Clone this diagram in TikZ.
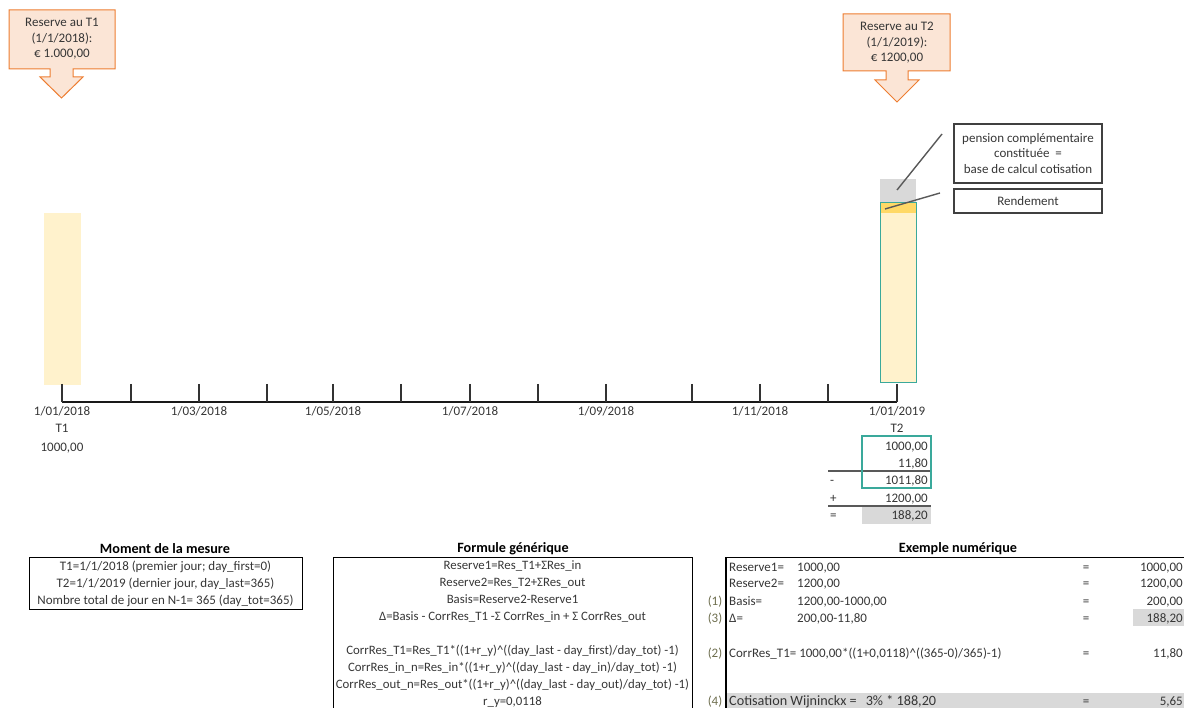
\documentclass[tikz,border=0pt]{standalone}
\usepackage{fontspec}
\setmainfont{Carlito}
\definecolor{txt}{HTML}{363636}
\definecolor{calloutfill}{HTML}{FBE5D6}
\definecolor{calloutdraw}{HTML}{ED7D31}
\definecolor{barfill}{HTML}{FFF2CC}
\definecolor{gold}{HTML}{FFD966}
\definecolor{cellgrey}{HTML}{D9D9D9}
\definecolor{tealline}{HTML}{3AA99B}
\definecolor{refnum}{HTML}{6E6E4E}
\definecolor{leadgrey}{HTML}{595959}
\begin{document}
\begin{tikzpicture}[x=1pt,y=-1pt,
  every node/.style={font=\fontsize{13}{17}\selectfont, text=txt, inner sep=0pt},
  callout/.style={draw=calloutdraw, fill=calloutfill, line width=1pt, line join=miter},
  callouttext/.style={align=center, font=\fontsize{13}{15.5}\selectfont},
  axisline/.style={draw=black!90, line width=1.3pt},
  tickline/.style={draw=black!80, line width=1.1pt},
  labelbox/.style={draw=black!75, line width=1.2pt, align=center, font=\fontsize{13}{15.5}\selectfont},
  leader/.style={draw=leadgrey, line width=1.4pt},
  sumline/.style={draw=leadgrey, line width=1.2pt},
  tablebox/.style={draw=black, line width=1pt},
  head/.style={font=\bfseries\fontsize{14.2}{17}\selectfont, text=black},
  refno/.style={text=refnum, anchor=base},
  lft/.style={anchor=base west},
  rgt/.style={anchor=base east},
  mid/.style={anchor=base}]
\useasboundingbox (0,0) rectangle (1184,708);

% --- callouts with the reserves at T1 and T2
\draw[callout] (9,10) -- (115,10) -- (115,69) -- (73,69) -- (73,77) -- (83,77)
  -- (61.5,98) -- (40,77) -- (50,77) -- (50,69) -- (9,69) -- cycle;
\node[callouttext] (noteT1) at (62,39) {Reserve au T1\\(1/1/2018):\\€ 1.000,00};
\draw[callout] (843,14) -- (950,14) -- (950,71) -- (908,71) -- (908,80) -- (919,80)
  -- (897,102) -- (875,80) -- (886,80) -- (886,71) -- (843,71) -- cycle;
\node[callouttext] (noteT2) at (897,43) {Reserve au T2\\(1/1/2019):\\€ 1200,00};

% --- reserve bars
\fill[barfill] (44,213) rectangle (81,385);
\fill[cellgrey] (880,179) rectangle (916,203);
\fill[gold] (880,203) rectangle (916,213);
\fill[barfill] (880,213) rectangle (916,383);
\draw[tealline, line width=1pt] (880,203) rectangle (916,383);

% --- time axis
\draw[axisline] (62,402) -- (897,402);
\foreach \tx in {62,131,199,267,333,401,470,538,606,692,760,828,897}
  \draw[tickline] (\tx,384) -- (\tx,402);
\node[mid] (d1) at (62,415.5) {1/01/2018};
\node[mid] (d2) at (199,415.5) {1/03/2018};
\node[mid] (d3) at (333,415.5) {1/05/2018};
\node[mid] (d4) at (470,415.5) {1/07/2018};
\node[mid] (d5) at (606,415.5) {1/09/2018};
\node[mid] (d6) at (760,415.5) {1/11/2018};
\node[mid] (d7) at (897,415.5) {1/01/2019};
\node[mid] (tT1) at (62,432.5) {T1};
\node[mid] (vT1) at (62,451.5) {1000,00};
\node[mid] (tT2) at (897,432.5) {T2};

% --- calculation under T2
\fill[cellgrey] (862,506) rectangle (931,524);
\draw[sumline] (828,471) -- (930,471);
\draw[sumline] (828,506) -- (931,506);
\draw[tealline, line width=1.3pt] (862,436) rectangle (931,488);
\node[rgt] (c1) at (928,450.5) {1000,00};
\node[rgt] (c2) at (928,467.5) {11,80};
\node[rgt] (c3) at (928,484.5) {1011,80};
\node[rgt] (c4) at (928,502.5) {1200,00};
\node[rgt] (c5) at (928,519.5) {188,20};
\node[lft] (o1) at (830,484.5) {-};
\node[lft] (o2) at (830,502.5) {+};
\node[lft] (o3) at (830,519.5) {=};

% --- legend boxes with leader lines
\node[labelbox, minimum width=148, minimum height=59] (pension) at (1028,153.5)
  {pension complémentaire\\constituée\ \ =\\base de calcul cotisation};
\node[labelbox, minimum width=148, minimum height=24] (rend) at (1028,201) {Rendement};
\coordinate (pa) at (942,134);
\coordinate (pb) at (897,190);
\coordinate (ra) at (940,193);
\coordinate (rb) at (885,209);
\draw[leader] (pa) -- (pb);
\draw[leader] (ra) -- (rb);

% --- moment de la mesure
\node[head] (hMoment) at (165,549) {Moment de la mesure};
\draw[tablebox] (29,557) rectangle (302,609);
\node[align=center] (moment) at (165.5,583.5)
  {T1=1/1/2018 (premier jour; day\_first=0)\\
   T2=1/1/2019 (dernier jour, day\_last=365)\\
   Nombre total de jour en N-1= 365 (day\_tot=365)};

% --- formule générique
\node[head] (hFormule) at (513,549) {Formule générique};
\draw[tablebox] (333,708) -- (333,557) -- (692,557) -- (692,708);
\node[align=center, font=\fontsize{12.8}{17}\selectfont] (formule) at (512.5,634.2)
  {Reserve1=Res\_T1+ΣRes\_in\\
   Reserve2=Res\_T2+ΣRes\_out\\
   Basis=Reserve2-Reserve1\\
   Δ=Basis - CorrRes\_T1 -Σ CorrRes\_in + Σ CorrRes\_out\\
   \mbox{}\\
   CorrRes\_T1=Res\_T1*((1+r\_y)\textasciicircum((day\_last - day\_first)/day\_tot) -1)\\
   CorrRes\_in\_n=Res\_in*((1+r\_y)\textasciicircum((day\_last - day\_in)/day\_tot) -1)\\
   CorrRes\_out\_n=Res\_out*((1+r\_y)\textasciicircum((day\_last - day\_out)/day\_tot) -1)\\
   r\_y=0,0118};

% --- exemple numérique
\node[head] (hExemple) at (958,549) {Exemple numérique};
\fill[cellgrey] (1133,609) rectangle (1184,626);
\fill[cellgrey] (726,693) rectangle (1184,708);
\draw[tablebox] (726,557) -- (1184,557);
\draw[tablebox, line width=1.6pt] (726,708) -- (726,556.5);

\node[lft] (e1a) at (729,571.5) {Reserve1=};
\node[lft] (e1b) at (797,571.5) {1000,00};
\node[mid] (e1c) at (1086,571.5) {=};
\node[rgt] (e1d) at (1183,571.5) {1000,00};

\node[lft] (e2a) at (729,587.5) {Reserve2=};
\node[lft] (e2b) at (797,587.5) {1200,00};
\node[mid] (e2c) at (1086,587.5) {=};
\node[rgt] (e2d) at (1183,587.5) {1200,00};

\node[refno] (r1) at (715,605.5) {(1)};
\node[lft] (e3a) at (729,605.5) {Basis=};
\node[lft] (e3b) at (797,605.5) {1200,00-1000,00};
\node[mid] (e3c) at (1086,605.5) {=};
\node[rgt] (e3d) at (1183,605.5) {200,00};

\node[refno] (r3) at (715,622.5) {(3)};
\node[lft] (e4a) at (729,622.5) {Δ=};
\node[lft] (e4b) at (797,622.5) {200,00-11,80};
\node[mid] (e4c) at (1086,622.5) {=};
\node[rgt] (e4d) at (1183,622.5) {188,20};

\node[refno] (r2) at (715,657.5) {(2)};
\node[lft] (e5a) at (729,657.5) {CorrRes\_T1= 1000,00*((1+0,0118)\textasciicircum((365-0)/365)-1)};
\node[mid] (e5c) at (1086,657.5) {=};
\node[rgt] (e5d) at (1183,657.5) {11,80};

\node[refno] (r4) at (715,705.5) {(4)};
\node[lft, font=\fontsize{14.2}{17}\selectfont] (e6a) at (729,705.5)
  {Cotisation Wijninckx =\hspace{9pt}3\% * 188,20};
\node[mid] (e6c) at (1086,705.5) {=};
\node[rgt] (e6d) at (1183,705.5) {5,65};
\end{tikzpicture}
\end{document}
